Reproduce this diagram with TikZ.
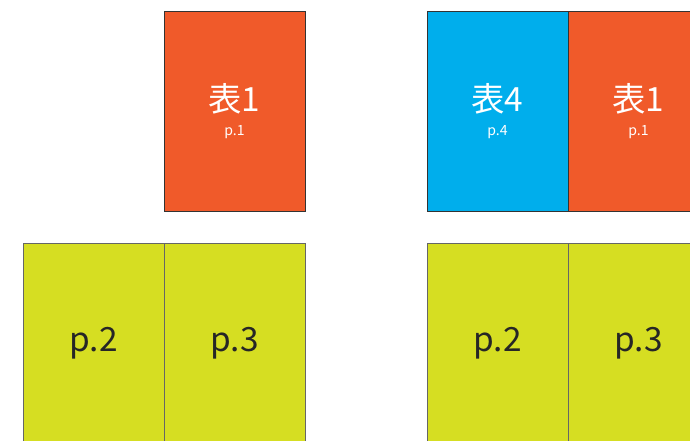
\documentclass[tikz,border=0pt]{standalone}
\usepackage{fontspec}
\setmainfont{Noto Sans CJK JP}
\usetikzlibrary{positioning}

\begin{document}
\begin{tikzpicture}
		[x=0.02cm,y=-0.02cm,line cap=round,
		%Styles
		page/.style={draw=#1,line width=0.5pt,minimum width=2.82cm,minimum height=4cm,inner sep=0pt,outer sep=0pt,align=center},
		cover/.style={page=black!80,fill=#1,text=white},
		inner page/.style={page=black!60,fill=pagecolor,text=black!85},
		big text/.style={font=\fontsize{19}{22}\selectfont},
		]
		
		%Colors
		\definecolor{frontcolor}{HTML}{F05A2A}	%front cover
		\definecolor{backcolor}{HTML}{00AEEC}	%back cover
		\definecolor{pagecolor}{HTML}{D6DE22}	%inner pages
		
		\useasboundingbox (0,0) rectangle (690,440);
		\clip (0,0) rectangle (690,440);
		
		%The graphic
		\newcommand{\covertext}[2]{{\fontsize{19}{20}\selectfont #1}\\[2pt]{\fontsize{8}{9}\selectfont #2}}
		
		\node[cover=frontcolor,anchor=north west] (front) at (164,11) {\covertext{表1}{p.1}};
		\node[inner page,big text,anchor=north west] (pageA) at (23,243) {p.2};
		\node[inner page,big text,right=0pt of pageA] (pageB) {p.3};
		
		\node[cover=backcolor,anchor=north west] (back) at (427,11) {\covertext{表4}{p.4}};
		\node[cover=frontcolor,right=0pt of back] (front2) {\covertext{表1}{p.1}};
		\node[inner page,big text,anchor=north west] (pageC) at (427,243) {p.2};
		\node[inner page,big text,right=0pt of pageC] (pageD) {p.3};
	\end{tikzpicture}
\end{document}
